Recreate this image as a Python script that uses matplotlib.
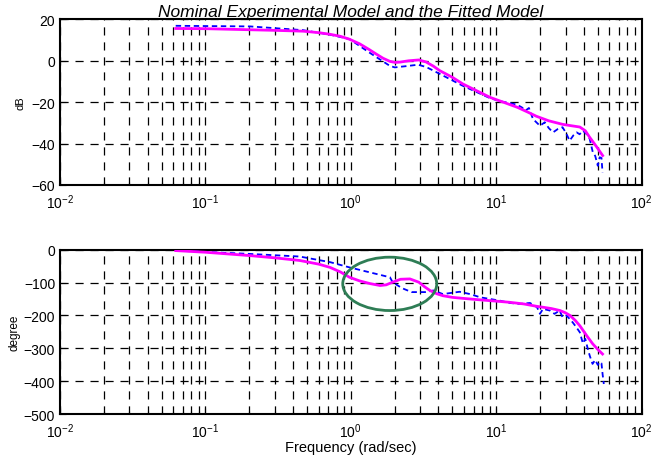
import matplotlib
matplotlib.use("Agg")
import matplotlib.pyplot as plt
from matplotlib.patches import Ellipse
from matplotlib.ticker import LogLocator

plt.rcParams['font.family'] = ['Liberation Sans', 'DejaVu Sans']

# ---- data ----
fit_mag_f = [0.0625, 0.1, 0.2, 0.3, 0.47, 0.6, 0.72, 0.85, 0.98, 1.15, 1.34, 1.5, 1.67, 1.86, 2.02, 2.2, 2.5, 2.94,
             3.3, 3.7, 4.1, 5.0, 5.9, 7.5, 9.1, 11.5, 14, 16.5, 18.9, 23, 28.6, 33, 37.6, 41, 44, 49, 54]
fit_mag_db = [15.6, 15.5, 15.0, 14.7, 14.3, 13.6, 12.8, 11.8, 10.4, 8.2, 5.4, 3.2, 1.2, -0.3, -0.8, -0.6, 0.0, 0.4,
              -0.6, -2.6, -4.8, -8.0, -11.2, -14.8, -17.7, -20.3, -22.5, -24.8, -26.8, -29.0, -30.7, -31.4, -32.0, -33.8, -37.0, -41.5, -45.8]

exp_mag_f = [0.0625, 0.203, 0.469, 0.72, 0.98, 1.34, 1.86, 2.01, 2.4, 2.90, 3.3, 4.11, 5.86, 9.04, 10.6, 12.5, 13.9, 15.0, 15.9, 16.8,
             17.9, 20.0, 21.6, 23.0, 24.6, 26.5, 28.6, 30.3, 32.0, 34.0, 35.8, 37.5, 39.5, 42.0, 44.0, 46.2, 48.0, 50.0, 51.5, 53.0, 53.9]
exp_mag_db = [16.9, 16.6, 14.8, 12.6, 10.5, 4.0, -2.5, -3.2, -2.6, -1.9, -3.0, -6.4, -12.0, -18.0, -19.5, -20.5, -21.2, -22.5, -24.1, -22.8,
              -28.1, -31.4, -29.7, -32.5, -34.6, -33.0, -32.1, -35.0, -38.6, -36.0, -34.6, -35.5, -33.8, -35.5, -37.8, -44.2, -46.0, -50.7, -46.6, -47.0, -53.9]

fit_ph_f = [0.0625, 0.1, 0.2, 0.3, 0.445, 0.6, 0.72, 0.85, 0.98, 1.15, 1.35, 1.59, 1.75, 1.94, 2.2, 2.55, 2.94, 3.2, 3.5, 3.9,
            4.3, 5.0, 5.9, 7.5, 9.1, 12.4, 15.5, 18.9, 21.0, 24.0, 27.5, 30.0, 32.2, 35.0, 37.6, 41.9, 46.1, 50.0, 53.9]
fit_ph_deg = [-3, -8, -18, -25, -33, -44, -54, -68, -84, -95, -103, -109, -107, -99, -90, -89, -99, -112, -124, -134,
              -140, -145, -148, -152, -155, -160, -165, -172, -175, -179, -185, -192, -200, -215, -231, -261, -286, -303, -317]

exp_ph_f = [0.0625, 0.2, 0.445, 0.72, 0.98, 1.35, 1.86, 1.94, 2.25, 2.62, 3.3, 3.7, 4.3, 5.6, 6.6, 7.8, 9.1, 10.6, 12.4, 14.5, 17.1, 19.1,
            20.0, 21.0, 23.4, 25.2, 27.3, 28.6, 30.5, 33.6, 35.5, 37.6, 39.5, 41.0, 42.6, 44.0, 46.0, 48.0, 50.0, 51.5, 53.0, 54.0, 55.0]
exp_ph_deg = [-3, -13, -21, -38, -54, -69, -84, -99, -117, -129, -129, -124, -135, -128, -135, -145, -150, -155, -162, -165, -162, -175,
              -195, -180, -185, -195, -185, -205, -200, -221, -235, -251, -285, -271, -300, -322, -347, -335, -350, -341, -345, -380, -408]

mag_yticks = [20, 0, -20, -40, -60]
ph_yticks = [0, -100, -200, -300, -400, -500]

title = "Nominal Experimental Model and the Fitted Model"

fig = plt.figure(figsize=(6.52, 4.6), dpi=100)
ax1 = fig.add_axes([0.092, 0.5957, 0.892, 0.360])
ax2 = fig.add_axes([0.092, 0.0972, 0.892, 0.358])

grid_kw = dict(color='black', linestyle=(0, (6.5, 5.5)), linewidth=0.9)

def style(ax, yticks, ylim):
    ax.set_xscale('log')
    ax.set_xlim(1e-2, 1e2)
    ax.set_ylim(*ylim)
    ax.set_yticks(yticks)
    ax.xaxis.set_major_locator(LogLocator(base=10, numticks=10))
    ax.xaxis.set_minor_locator(LogLocator(base=10, subs=range(2, 10), numticks=100))
    ax.grid(True, which='major', axis='both', **grid_kw)
    ax.grid(True, which='minor', axis='x', **grid_kw)
    ax.tick_params(direction='in', which='both', labelsize=10, length=4, width=0.8)
    ax.tick_params(axis='x', which='major', pad=5)
    ax.tick_params(which='minor', length=2)
    for s in ax.spines.values():
        s.set_linewidth(1.5)
    ax.set_axisbelow(True)

style(ax1, mag_yticks, (-60, 20))
style(ax2, ph_yticks, (-500, 0))

ax1.plot(exp_mag_f, exp_mag_db, color='#0000FF', linestyle=(0, (3, 2)), linewidth=1.3, zorder=3)
ax1.plot(fit_mag_f, fit_mag_db, color='#FF00FF', linewidth=2.0, zorder=4)
ax2.plot(exp_ph_f, exp_ph_deg, color='#0000FF', linestyle=(0, (3, 2)), linewidth=1.3, zorder=3)
ax2.plot(fit_ph_f, fit_ph_deg, color='#FF00FF', linewidth=2.0, zorder=4)

ell = Ellipse((0.567, 0.792), 0.1616, 0.324, transform=ax2.transAxes,
              fill=False, edgecolor='#2E7D55', linewidth=2.0, zorder=5)
ax2.add_patch(ell)

ax1.set_title(title, fontsize=12.5, style='italic', pad=2)
ax1.set_ylabel('dB', fontsize=8, labelpad=4)
ax2.set_ylabel('degree', fontsize=8.5, labelpad=2)
ax2.set_xlabel('Frequency (rad/sec)', fontsize=10.5, labelpad=0)

fig.savefig('out.png', dpi=100)
